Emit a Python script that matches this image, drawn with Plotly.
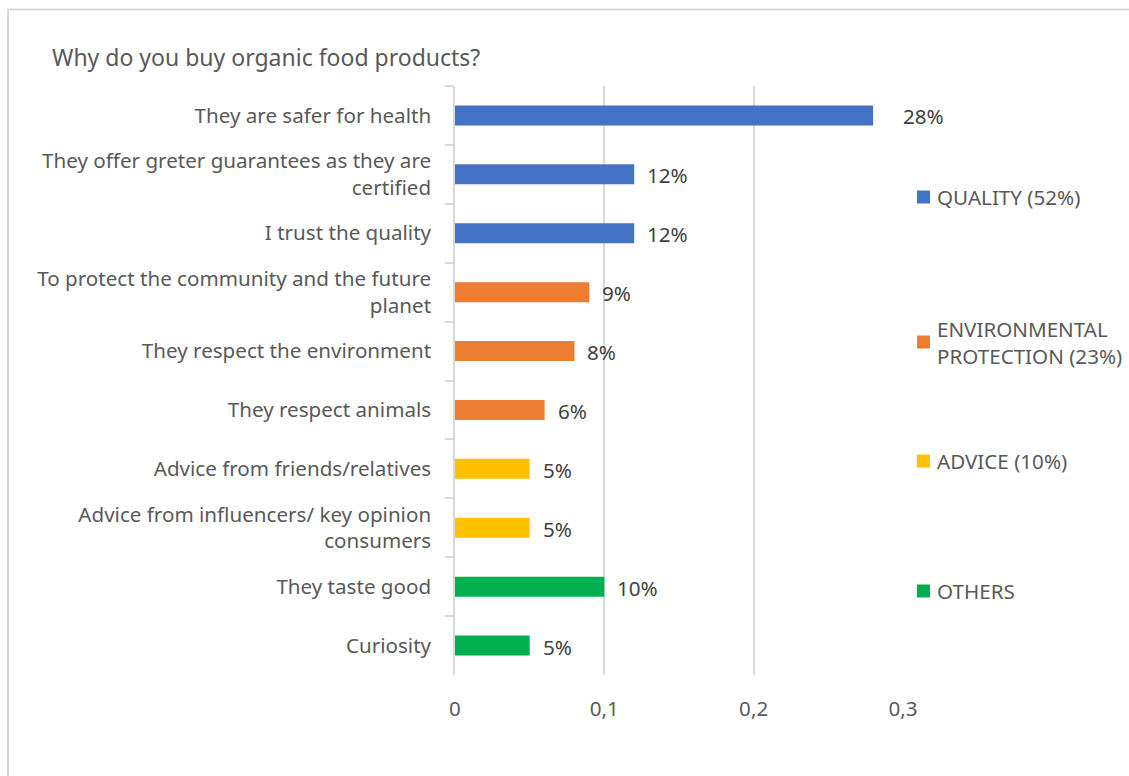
import plotly.graph_objects as go

# Survey answers, top to bottom
categories = [
    "They are safer for health",
    "They offer greter guarantees as they are<br>certified",
    "I trust the quality",
    "To protect the community and the future<br>planet",
    "They respect the environment",
    "They respect animals",
    "Advice from friends/relatives",
    "Advice from influencers/ key opinion<br>consumers",
    "They taste good",
    "Curiosity",
]
shares = [0.28, 0.12, 0.12, 0.09, 0.08, 0.06, 0.05, 0.05, 0.10, 0.05]
groups = ["QUALITY", "QUALITY", "QUALITY", "ENV", "ENV", "ENV",
          "ADVICE", "ADVICE", "OTHERS", "OTHERS"]

group_keys = ["QUALITY", "ENV", "ADVICE", "OTHERS"]
group_labels = ["QUALITY (52%)", "ENVIRONMENTAL<br>PROTECTION (23%)", "ADVICE (10%)", "OTHERS"]
group_colors = ["#4472C4", "#ED7D31", "#FFC000", "#00B050"]

x_ticks = [0, 0.1, 0.2, 0.3]
x_ticktext = ["0", "0,1", "0,2", "0,3"]

FONT = "'Noto Sans', 'Open Sans', sans-serif"
FS = 20.6
TEXT = "#595959"
GRID = "#D9D9D9"

W, H = 1129, 776
L, R, T, B = 455, 226, 86, 101
plot_w = W - L - R
plot_h = H - T - B


def px_x(p):
    return (p - L) / plot_w


def px_y(p):
    return (H - B - p) / plot_h


fig = go.Figure()
for key, color in zip(group_keys, group_colors):
    ys = [c for c, g in zip(categories, groups) if g == key]
    xs = [v for v, g in zip(shares, groups) if g == key]
    fig.add_trace(go.Bar(
        y=ys, x=xs, orientation="h", name=key,
        marker=dict(color=color, line=dict(width=0)),
        width=0.34, showlegend=False, hoverinfo="x+y",
    ))

# value labels next to each bar
for i, (c, v) in enumerate(zip(categories, shares)):
    fig.add_annotation(
        x=v, y=c, xref="x", yref="y", text=f"{round(v * 100)}%",
        showarrow=False, xanchor="left", yanchor="middle",
        xshift=28 if i == 0 else 11, yshift=-1,
        font=dict(family=FONT, size=FS, color="#404040"),
    )

# legend on the right
legend_y = [197, 342, 461, 591]
for lab, color, yy in zip(group_labels, group_colors, legend_y):
    fig.add_shape(type="rect", xref="paper", yref="paper",
                  x0=px_x(917), x1=px_x(930), y0=px_y(yy + 6.5), y1=px_y(yy - 6.5),
                  fillcolor=color, line=dict(width=0))
    fig.add_annotation(x=px_x(935), y=px_y(yy), xref="paper", yref="paper",
                       text=lab, showarrow=False, xanchor="left", yanchor="middle",
                       align="left", font=dict(family=FONT, size=FS, color=TEXT))

# chart frame
fig.add_shape(type="rect", xref="paper", yref="paper",
              x0=px_x(8), x1=px_x(1140), y0=px_y(790), y1=px_y(9.5),
              line=dict(color=GRID, width=2), fillcolor="rgba(0,0,0,0)", layer="below")

fig.update_layout(
    width=W, height=H,
    margin=dict(l=L, r=R, t=T, b=B),
    paper_bgcolor="white", plot_bgcolor="white",
    barmode="overlay",
    title=dict(text="Why do you buy organic food products?",
               x=52 / W, xref="container", xanchor="left",
               y=1 - 58 / H, yref="container", yanchor="middle",
               font=dict(family=FONT, size=23, color=TEXT)),
    font=dict(family=FONT, size=FS, color=TEXT),
)
fig.update_xaxes(
    range=[0, 0.3], tickvals=x_ticks, ticktext=x_ticktext,
    showgrid=True, gridcolor=GRID, gridwidth=1.5,
    zeroline=False, showline=False, ticks="",
    ticklabelstandoff=19,
    tickfont=dict(family=FONT, size=FS, color=TEXT),
)
fig.update_yaxes(
    categoryorder="array", categoryarray=categories, autorange="reversed",
    showline=True, linecolor=GRID, linewidth=1.5,
    ticks="outside", tickson="boundaries", ticklen=8, tickcolor=GRID, tickwidth=1.5,
    ticklabelstandoff=18,
    showgrid=False, zeroline=False,
    tickfont=dict(family=FONT, size=FS, color=TEXT),
)

fig.write_html("out.html")
